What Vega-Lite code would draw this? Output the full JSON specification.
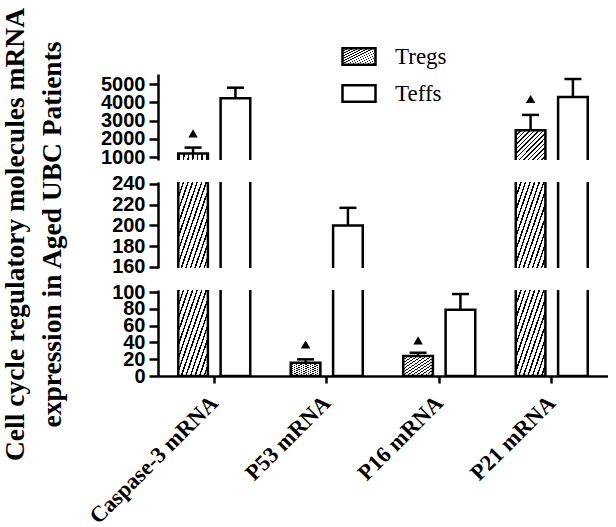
{
  "$schema": "https://vega.github.io/schema/vega-lite/v6.json",
  "padding": {"left": 0, "top": 7, "right": 0, "bottom": 0},
  "background": "white",
  "config": {
    "view": {"stroke": null},
    "axis": {"grid": false, "domainColor": "black", "domainWidth": 2.5, "tickColor": "black", "tickWidth": 2.5, "labelColor": "black", "titleColor": "black"}
  },
  "datasets": {
    "mrna": [
      {"cat": "Caspase-3 mRNA", "group": "Tregs", "value": 1190, "hi": 1520, "sig": 2300},
      {"cat": "Caspase-3 mRNA", "group": "Teffs", "value": 4220, "hi": 4800, "sig": null},
      {"cat": "P53 mRNA", "group": "Tregs", "value": 15.8, "hi": 19.8, "sig": 37.5},
      {"cat": "P53 mRNA", "group": "Teffs", "value": 200, "hi": 217, "sig": null},
      {"cat": "P16 mRNA", "group": "Tregs", "value": 23.7, "hi": 27.6, "sig": 42.5},
      {"cat": "P16 mRNA", "group": "Teffs", "value": 79, "hi": 97.6, "sig": null},
      {"cat": "P21 mRNA", "group": "Tregs", "value": 2470, "hi": 3310, "sig": 4180},
      {"cat": "P21 mRNA", "group": "Teffs", "value": 4290, "hi": 5275, "sig": null}
    ]
  },
  "data": {"name": "mrna"},
  "spacing": 22,
  "bounds": "flush",
  "resolve": {"scale": {"fill": "independent", "y": "independent"}, "legend": {"fill": "independent"}},
  "vconcat": [
    {
      "width": 450, "height": 86,
      "encoding": {
        "x": {"field": "cat", "type": "nominal", "sort": null, "scale": {"paddingInner": 0.36, "paddingOuter": 0.18}, "axis": null},
        "xOffset": {"field": "group", "type": "nominal", "sort": ["Tregs", "Teffs"], "scale": {"paddingInner": 0.3, "paddingOuter": 0}}
      },
      "resolve": {"scale": {"y": "independent"}},
      "layer": [
        {
          "mark": {"type": "bar", "clip": true},
          "encoding": {
            "y": {"field": "value", "type": "quantitative", "scale": {"domain": [840, 5550], "clamp": true, "zero": false, "nice": false},
              "axis": {"values": [1000, 2000, 3000, 4000, 5000], "format": "d", "title": null, "tickSize": 9, "labelFont": "Liberation Sans", "labelFontWeight": "bold", "labelFontSize": 20, "labelPadding": 4, "labelOverlap": false, "labelFlush": false, "labelBound": false}},
            "y2": {"datum": 0},
            "fill": {"field": "group", "type": "nominal",
              "scale": {"domain": ["Tregs", "Teffs"], "range": [
                {"expr": "{gradient: 'linear', x1: 0, y1: 0, x2: 1, y2: 1, stops: [{offset: 0, color: '#000'}, {offset: 0.025, color: '#000'}, {offset: 0.025, color: '#fff'}, {offset: 0.0769, color: '#fff'}, {offset: 0.0769, color: '#000'}, {offset: 0.1019, color: '#000'}, {offset: 0.1019, color: '#fff'}, {offset: 0.1538, color: '#fff'}, {offset: 0.1538, color: '#000'}, {offset: 0.1788, color: '#000'}, {offset: 0.1788, color: '#fff'}, {offset: 0.2308, color: '#fff'}, {offset: 0.2308, color: '#000'}, {offset: 0.2558, color: '#000'}, {offset: 0.2558, color: '#fff'}, {offset: 0.3077, color: '#fff'}, {offset: 0.3077, color: '#000'}, {offset: 0.3327, color: '#000'}, {offset: 0.3327, color: '#fff'}, {offset: 0.3846, color: '#fff'}, {offset: 0.3846, color: '#000'}, {offset: 0.4096, color: '#000'}, {offset: 0.4096, color: '#fff'}, {offset: 0.4615, color: '#fff'}, {offset: 0.4615, color: '#000'}, {offset: 0.4865, color: '#000'}, {offset: 0.4865, color: '#fff'}, {offset: 0.5385, color: '#fff'}, {offset: 0.5385, color: '#000'}, {offset: 0.5635, color: '#000'}, {offset: 0.5635, color: '#fff'}, {offset: 0.6154, color: '#fff'}, {offset: 0.6154, color: '#000'}, {offset: 0.6404, color: '#000'}, {offset: 0.6404, color: '#fff'}, {offset: 0.6923, color: '#fff'}, {offset: 0.6923, color: '#000'}, {offset: 0.7173, color: '#000'}, {offset: 0.7173, color: '#fff'}, {offset: 0.7692, color: '#fff'}, {offset: 0.7692, color: '#000'}, {offset: 0.7942, color: '#000'}, {offset: 0.7942, color: '#fff'}, {offset: 0.8462, color: '#fff'}, {offset: 0.8462, color: '#000'}, {offset: 0.8712, color: '#000'}, {offset: 0.8712, color: '#fff'}, {offset: 0.9231, color: '#fff'}, {offset: 0.9231, color: '#000'}, {offset: 0.9481, color: '#000'}, {offset: 0.9481, color: '#fff'}, {offset: 1, color: '#fff'}]}"},
                "#ffffff"]},
              "legend": {"title": null, "orient": "none", "legendX": 183, "legendY": -35.5, "padding": 0, "symbolType": "M-1,-0.5H1V0.5H-1Z", "symbolSize": 1089, "symbolStrokeColor": "black", "symbolStrokeWidth": 2.5, "symbolOpacity": 1, "labelFont": "Liberation Serif", "labelFontSize": 23, "labelColor": "black", "labelOffset": 18, "rowPadding": 5}}
          }
        },
        {
          "mark": {"type": "bar", "clip": true, "fillOpacity": 0, "stroke": "black", "strokeWidth": 2.5},
          "encoding": {
            "y": {"field": "value", "type": "quantitative", "scale": {"domain": [840, 5550], "zero": false, "nice": false}, "axis": null},
            "y2": {"datum": 0}
          }
        },
        {
          "mark": {"type": "rule", "clip": true, "color": "black", "strokeWidth": 2.5},
          "encoding": {
            "y": {"field": "value", "type": "quantitative", "scale": {"domain": [840, 5550], "zero": false, "nice": false}, "axis": null},
            "y2": {"field": "hi"}
          }
        },
        {
          "mark": {"type": "tick", "clip": true, "color": "black", "thickness": 2.5, "size": 17, "orient": "horizontal", "opacity": 1},
          "encoding": {
            "y": {"field": "hi", "type": "quantitative", "scale": {"domain": [840, 5550], "zero": false, "nice": false}, "axis": null}
          }
        },
        {
          "mark": {"type": "point", "clip": true, "shape": "triangle-up", "filled": true, "color": "black", "size": 90, "opacity": 1},
          "encoding": {
            "y": {"field": "sig", "type": "quantitative", "scale": {"domain": [840, 5550], "zero": false, "nice": false}, "axis": null}
          }
        }
      ]
    },
    {
      "width": 450, "height": 86,
      "encoding": {
        "x": {"field": "cat", "type": "nominal", "sort": null, "scale": {"paddingInner": 0.36, "paddingOuter": 0.18}, "axis": null},
        "xOffset": {"field": "group", "type": "nominal", "sort": ["Tregs", "Teffs"], "scale": {"paddingInner": 0.3, "paddingOuter": 0}}
      },
      "resolve": {"scale": {"y": "independent"}},
      "layer": [
        {
          "mark": {"type": "bar", "clip": true},
          "encoding": {
            "y": {"field": "value", "type": "quantitative", "scale": {"domain": [159, 241.9], "clamp": true, "zero": false, "nice": false},
              "axis": {"values": [160, 180, 200, 220, 240], "format": "d", "tickSize": 9, "labelFont": "Liberation Sans", "labelFontWeight": "bold", "labelFontSize": 20, "labelPadding": 4, "labelOverlap": false, "labelFlush": false, "labelBound": false,
                "title": ["Cell cycle regulatory molecules mRNA", "expression in Aged UBC Patients"],
                "titleFont": "Liberation Serif", "titleFontSize": 27.5, "titleFontWeight": "bold", "titleAngle": 270, "titleAlign": "center", "titleBaseline": "alphabetic", "titleX": -135, "titleY": 52, "titleLineHeight": 37}},
            "y2": {"datum": 0},
            "fill": {"condition": {"test": "datum.group === 'Tregs'", "value": {"gradient": "linear", "x1": 0, "y1": 0, "x2": 1, "y2": 1, "stops": [
                  {"offset": 0, "color": "#000"}, {"offset": 0.025, "color": "#000"}, {"offset": 0.025, "color": "#fff"}, {"offset": 0.0769, "color": "#fff"},
                  {"offset": 0.0769, "color": "#000"}, {"offset": 0.1019, "color": "#000"}, {"offset": 0.1019, "color": "#fff"}, {"offset": 0.1538, "color": "#fff"},
                  {"offset": 0.1538, "color": "#000"}, {"offset": 0.1788, "color": "#000"}, {"offset": 0.1788, "color": "#fff"}, {"offset": 0.2308, "color": "#fff"},
                  {"offset": 0.2308, "color": "#000"}, {"offset": 0.2558, "color": "#000"}, {"offset": 0.2558, "color": "#fff"}, {"offset": 0.3077, "color": "#fff"},
                  {"offset": 0.3077, "color": "#000"}, {"offset": 0.3327, "color": "#000"}, {"offset": 0.3327, "color": "#fff"}, {"offset": 0.3846, "color": "#fff"},
                  {"offset": 0.3846, "color": "#000"}, {"offset": 0.4096, "color": "#000"}, {"offset": 0.4096, "color": "#fff"}, {"offset": 0.4615, "color": "#fff"},
                  {"offset": 0.4615, "color": "#000"}, {"offset": 0.4865, "color": "#000"}, {"offset": 0.4865, "color": "#fff"}, {"offset": 0.5385, "color": "#fff"},
                  {"offset": 0.5385, "color": "#000"}, {"offset": 0.5635, "color": "#000"}, {"offset": 0.5635, "color": "#fff"}, {"offset": 0.6154, "color": "#fff"},
                  {"offset": 0.6154, "color": "#000"}, {"offset": 0.6404, "color": "#000"}, {"offset": 0.6404, "color": "#fff"}, {"offset": 0.6923, "color": "#fff"},
                  {"offset": 0.6923, "color": "#000"}, {"offset": 0.7173, "color": "#000"}, {"offset": 0.7173, "color": "#fff"}, {"offset": 0.7692, "color": "#fff"},
                  {"offset": 0.7692, "color": "#000"}, {"offset": 0.7942, "color": "#000"}, {"offset": 0.7942, "color": "#fff"}, {"offset": 0.8462, "color": "#fff"},
                  {"offset": 0.8462, "color": "#000"}, {"offset": 0.8712, "color": "#000"}, {"offset": 0.8712, "color": "#fff"}, {"offset": 0.9231, "color": "#fff"},
                  {"offset": 0.9231, "color": "#000"}, {"offset": 0.9481, "color": "#000"}, {"offset": 0.9481, "color": "#fff"}, {"offset": 1, "color": "#fff"}
                ]}}, "value": "#ffffff"}
          }
        },
        {
          "mark": {"type": "bar", "clip": true, "fillOpacity": 0, "stroke": "black", "strokeWidth": 2.5},
          "encoding": {
            "y": {"field": "value", "type": "quantitative", "scale": {"domain": [159, 241.9], "zero": false, "nice": false}, "axis": null},
            "y2": {"datum": 0}
          }
        },
        {
          "mark": {"type": "rule", "clip": true, "color": "black", "strokeWidth": 2.5},
          "encoding": {
            "y": {"field": "value", "type": "quantitative", "scale": {"domain": [159, 241.9], "zero": false, "nice": false}, "axis": null},
            "y2": {"field": "hi"}
          }
        },
        {
          "mark": {"type": "tick", "clip": true, "color": "black", "thickness": 2.5, "size": 17, "orient": "horizontal", "opacity": 1},
          "encoding": {
            "y": {"field": "hi", "type": "quantitative", "scale": {"domain": [159, 241.9], "zero": false, "nice": false}, "axis": null}
          }
        }
      ]
    },
    {
      "width": 450, "height": 86,
      "encoding": {
        "x": {"field": "cat", "type": "nominal", "sort": null, "scale": {"paddingInner": 0.36, "paddingOuter": 0.18},
          "axis": {"title": null, "domain": true, "ticks": true, "tickSize": 7, "labelAngle": -45, "labelAlign": "right", "labelBaseline": "middle", "labelPadding": 16, "labelFont": "Liberation Serif", "labelFontWeight": "bold", "labelFontSize": 22.5, "labelColor": "black"}},
        "xOffset": {"field": "group", "type": "nominal", "sort": ["Tregs", "Teffs"], "scale": {"paddingInner": 0.3, "paddingOuter": 0}}
      },
      "resolve": {"scale": {"y": "independent"}},
      "layer": [
        {
          "mark": {"type": "bar", "clip": true},
          "encoding": {
            "y": {"field": "value", "type": "quantitative", "scale": {"domain": [0, 102.4], "clamp": true, "zero": false, "nice": false},
              "axis": {"values": [0, 20, 40, 60, 80, 100], "format": "d", "title": null, "tickSize": 9, "labelFont": "Liberation Sans", "labelFontWeight": "bold", "labelFontSize": 20, "labelPadding": 4, "labelOverlap": false, "labelFlush": false, "labelBound": false}},
            "y2": {"datum": 0},
            "fill": {"condition": {"test": "datum.group === 'Tregs'", "value": {"gradient": "linear", "x1": 0, "y1": 0, "x2": 1, "y2": 1, "stops": [
                  {"offset": 0, "color": "#000"}, {"offset": 0.025, "color": "#000"}, {"offset": 0.025, "color": "#fff"}, {"offset": 0.0769, "color": "#fff"},
                  {"offset": 0.0769, "color": "#000"}, {"offset": 0.1019, "color": "#000"}, {"offset": 0.1019, "color": "#fff"}, {"offset": 0.1538, "color": "#fff"},
                  {"offset": 0.1538, "color": "#000"}, {"offset": 0.1788, "color": "#000"}, {"offset": 0.1788, "color": "#fff"}, {"offset": 0.2308, "color": "#fff"},
                  {"offset": 0.2308, "color": "#000"}, {"offset": 0.2558, "color": "#000"}, {"offset": 0.2558, "color": "#fff"}, {"offset": 0.3077, "color": "#fff"},
                  {"offset": 0.3077, "color": "#000"}, {"offset": 0.3327, "color": "#000"}, {"offset": 0.3327, "color": "#fff"}, {"offset": 0.3846, "color": "#fff"},
                  {"offset": 0.3846, "color": "#000"}, {"offset": 0.4096, "color": "#000"}, {"offset": 0.4096, "color": "#fff"}, {"offset": 0.4615, "color": "#fff"},
                  {"offset": 0.4615, "color": "#000"}, {"offset": 0.4865, "color": "#000"}, {"offset": 0.4865, "color": "#fff"}, {"offset": 0.5385, "color": "#fff"},
                  {"offset": 0.5385, "color": "#000"}, {"offset": 0.5635, "color": "#000"}, {"offset": 0.5635, "color": "#fff"}, {"offset": 0.6154, "color": "#fff"},
                  {"offset": 0.6154, "color": "#000"}, {"offset": 0.6404, "color": "#000"}, {"offset": 0.6404, "color": "#fff"}, {"offset": 0.6923, "color": "#fff"},
                  {"offset": 0.6923, "color": "#000"}, {"offset": 0.7173, "color": "#000"}, {"offset": 0.7173, "color": "#fff"}, {"offset": 0.7692, "color": "#fff"},
                  {"offset": 0.7692, "color": "#000"}, {"offset": 0.7942, "color": "#000"}, {"offset": 0.7942, "color": "#fff"}, {"offset": 0.8462, "color": "#fff"},
                  {"offset": 0.8462, "color": "#000"}, {"offset": 0.8712, "color": "#000"}, {"offset": 0.8712, "color": "#fff"}, {"offset": 0.9231, "color": "#fff"},
                  {"offset": 0.9231, "color": "#000"}, {"offset": 0.9481, "color": "#000"}, {"offset": 0.9481, "color": "#fff"}, {"offset": 1, "color": "#fff"}
                ]}}, "value": "#ffffff"}
          }
        },
        {
          "mark": {"type": "bar", "clip": true, "fillOpacity": 0, "stroke": "black", "strokeWidth": 2.5},
          "encoding": {
            "y": {"field": "value", "type": "quantitative", "scale": {"domain": [0, 102.4], "zero": false, "nice": false}, "axis": null},
            "y2": {"datum": 0}
          }
        },
        {
          "mark": {"type": "rule", "clip": true, "color": "black", "strokeWidth": 2.5},
          "encoding": {
            "y": {"field": "value", "type": "quantitative", "scale": {"domain": [0, 102.4], "zero": false, "nice": false}, "axis": null},
            "y2": {"field": "hi"}
          }
        },
        {
          "mark": {"type": "tick", "clip": true, "color": "black", "thickness": 2.5, "size": 17, "orient": "horizontal", "opacity": 1},
          "encoding": {
            "y": {"field": "hi", "type": "quantitative", "scale": {"domain": [0, 102.4], "zero": false, "nice": false}, "axis": null}
          }
        },
        {
          "mark": {"type": "point", "clip": true, "shape": "triangle-up", "filled": true, "color": "black", "size": 90, "opacity": 1},
          "encoding": {
            "y": {"field": "sig", "type": "quantitative", "scale": {"domain": [0, 102.4], "zero": false, "nice": false}, "axis": null}
          }
        }
      ]
    }
  ]
}
